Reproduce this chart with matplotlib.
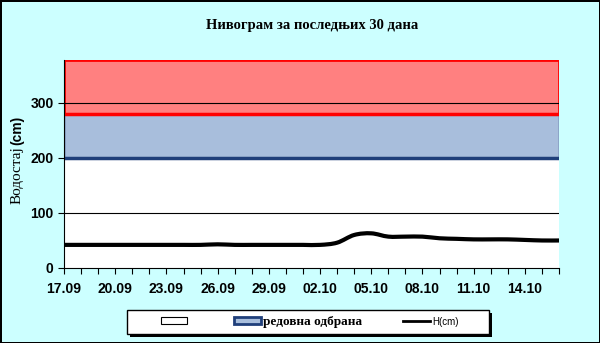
import matplotlib
matplotlib.use('Agg')
import matplotlib.pyplot as plt
from matplotlib.patches import Patch, PathPatch, Rectangle
from matplotlib.path import Path
from matplotlib.lines import Line2D
import numpy as np

# daily water level, 17.09 .. 16.10
dates = ['17.09', '18.09', '19.09', '20.09', '21.09', '22.09', '23.09', '24.09', '25.09', '26.09',
         '27.09', '28.09', '29.09', '30.09', '01.10', '02.10', '03.10', '04.10', '05.10', '06.10',
         '07.10', '08.10', '09.10', '10.10', '11.10', '12.10', '13.10', '14.10', '15.10', '16.10']
level = [42, 42, 42, 42, 42, 42, 42, 42, 42, 43,
         42, 42, 42, 42, 42, 42, 46, 60, 63, 57,
         57, 57, 54, 53, 52, 52, 52, 51, 50, 50]
regular_defense = (200, 280)
emergency = (280, 378)
yticks = [0, 100, 200, 300]

bg = '#ccffff'
fig = plt.figure(figsize=(6, 3.43), dpi=100, facecolor=bg,
                 edgecolor='black', linewidth=2)
ax = fig.add_axes([0.1067, 0.2187, 0.825, 0.6063])

x = np.arange(len(level))
y = np.array(level, dtype=float)
ax.axhspan(*emergency, facecolor='#ff8080', edgecolor='#ff0000', linewidth=2, zorder=1)
ax.axhspan(*regular_defense, facecolor='#a8bedc', edgecolor='#1f3f7a', linewidth=1, zorder=1)
ax.axhline(regular_defense[0], color='#1f3f7a', linewidth=2.5, zorder=2)
ax.axhline(emergency[0], color='#ff0000', linewidth=2.5, zorder=2)
for g in [100, 300]:
    ax.axhline(g, color='black', linewidth=0.8, zorder=2)

# smoothed line through the daily points (cubic Bezier, like a spreadsheet "smoothed line")
verts = [(x[0], y[0])]
codes = [Path.MOVETO]
n = len(x)
for i in range(n - 1):
    p0 = np.array([x[max(i - 1, 0)], y[max(i - 1, 0)]])
    p1 = np.array([x[i], y[i]])
    p2 = np.array([x[i + 1], y[i + 1]])
    p3 = np.array([x[min(i + 2, n - 1)], y[min(i + 2, n - 1)]])
    c1 = p1 + (p2 - p0) / 6
    c2 = p2 - (p3 - p1) / 6
    verts += [tuple(c1), tuple(c2), tuple(p2)]
    codes += [Path.CURVE4] * 3
ax.add_patch(PathPatch(Path(verts, codes), facecolor='none', edgecolor='black',
                       linewidth=3, capstyle='round', joinstyle='round', zorder=3))

ax.set_xlim(0, len(level) - 1)
ax.set_ylim(0, emergency[1])
ax.set_xticks(x, minor=True)
ax.set_xticks(x[::3])
ax.set_xticklabels(dates[::3])
ax.set_yticks(yticks)
ax.tick_params(axis='x', which='both', direction='out', length=4, width=0.8, pad=6)
ax.tick_params(axis='y', direction='out', length=4, width=0.8)
for lab in ax.get_xticklabels() + ax.get_yticklabels():
    lab.set_fontfamily('Liberation Sans')
    lab.set_fontweight('bold')
    lab.set_fontsize(10)
for s in ['top', 'right']:
    ax.spines[s].set_visible(False)

fig.text(0.028, 0.574, 'Водостај', rotation=90, ha='center', va='top',
         fontfamily='Liberation Serif', fontsize=11)
fig.text(0.028, 0.577, '(cm)', rotation=90, ha='center', va='bottom',
         fontfamily='Liberation Sans', fontweight='bold', fontsize=10)

fig.text(0.52, 0.925, 'Нивограм за последњих 30 дана', ha='center', va='center',
         fontfamily='Liberation Serif', fontweight='bold', fontsize=10.5)

# legend box with hard shadow
px, py = 1 / 600, 1 / 343
fig.patches.append(Rectangle((130 * px, 1 - 337 * py), 362 * px, 24 * py, transform=fig.transFigure,
                             facecolor='black', edgecolor='none', zorder=1))
fig.patches.append(Rectangle((127 * px, 1 - 334 * py), 362 * px, 24 * py, transform=fig.transFigure,
                             facecolor='white', edgecolor='black', linewidth=1, zorder=2))

handles = [Patch(facecolor='white', edgecolor='black', linewidth=0.8),
           Patch(facecolor='#a8bedc', edgecolor='#1f3f7a', linewidth=2),
           Line2D([], [], color='black', linewidth=2)]
labels = [' ', 'редовна одбрана', 'H(cm)']
leg = fig.legend(handles, labels, loc='center', bbox_to_anchor=(310 * px, 1 - 322 * py), ncol=3,
                 frameon=False, columnspacing=3.1, handlelength=2.0, handleheight=0.5,
                 handletextpad=0.2, borderpad=0, borderaxespad=0,
                 prop={'family': 'Liberation Serif', 'size': 9.5})
leg.set_zorder(3)
leg.get_texts()[2].set_fontfamily('Liberation Sans')
leg.get_texts()[2].set_fontsize(7)
leg.get_texts()[1].set_fontweight('bold')

fig.savefig('out.png', dpi=100, facecolor=bg, edgecolor='black')
